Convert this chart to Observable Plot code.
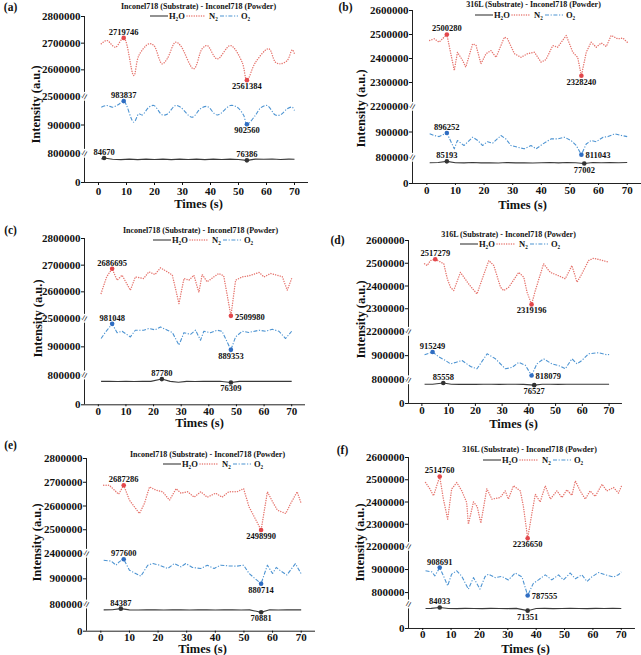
<!DOCTYPE html>
<html><head><meta charset="utf-8">
<script src="https://cdn.jsdelivr.net/npm/d3@7"></script>
<script src="https://cdn.jsdelivr.net/npm/@observablehq/plot@0.6"></script>
<style>
body{margin:0;background:#fff;}
#fig{position:relative;width:641px;height:655px;overflow:hidden;}
#fig svg{position:absolute;overflow:visible;}
</style></head><body><div id="fig"></div>
<script>
// ---------- data (time s, intensity a.u.) ----------
const xTicks = [0, 10, 20, 30, 40, 50, 60, 70];
const titleInc = "Inconel718 (Substrate) - Inconel718 (Powder)";
const title316 = "316L (Substrate) - Inconel718 (Powder)";
const seriesNames = ["H2O", "N2", "O2"];
const seriesLabels = ["H₂O", "N₂", "O₂"];

const a_N2 = [[1,2697500],[3,2710000],[6,2685000],[9,2719746],[12.6,2578750],[14.4,2653750],[18,2697500],[19.8,2691000],[22.7,2622500],[24.5,2641000],[27.5,2703750],[29.3,2691000],[34,2603750],[37,2679000],[38.8,2691000],[42.4,2641000],[47.1,2691000],[51.3,2628750],[53,2561384],[56.1,2628750],[60.8,2679000],[63.2,2628750],[65,2622500],[67.4,2635000],[69.2,2675000],[70,2660000]];
const a_O2 = [[1,962500],[3,968400],[5,962500],[7,970900],[9,983837],[12.6,909800],[14.4,939300],[15.6,935000],[18,962500],[19.8,968400],[22.7,935800],[24.5,938000],[27.5,968400],[29.3,962500],[33.4,927400],[36.4,956800],[38.8,965000],[42.4,935000],[47.1,968400],[49.5,962500],[51.8,935000],[53,902560],[56.1,935000],[57.9,960000],[60.2,968400],[63.2,935000],[65,935800],[67.4,956800],[69.2,962500],[70,951000]];
const a_H2O = [[1,81000],[2,84670],[5,80000],[8,79000],[11,80500],[14,79000],[17,80500],[20,79500],[23,80500],[26,79000],[29,80500],[32,79500],[35,80500],[38,79000],[41,80500],[44,79500],[47,80500],[50,79500],[53,76386],[56,80500],[59,80000],[62,81000],[65,79500],[68,80500],[70,80000]];
const a_peaks = [["N2",9,2719746],["N2",53,2561384],["O2",9,983837],["O2",53,902560],["H2O",2,84670],["H2O",53,76386]];

const b_N2 = [[1,2475000],[2.6,2482000],[4.3,2468000],[7,2500280],[9.6,2350000],[10.7,2426000],[12.5,2392000],[13.6,2364000],[16,2461000],[17.2,2455000],[18.9,2378000],[20.7,2420000],[22.4,2433000],[24.2,2405000],[27.1,2489000],[28.2,2482000],[30.6,2420000],[32.9,2405000],[35.2,2420000],[37.6,2426000],[39.9,2385000],[41.6,2395000],[44,2454000],[45.7,2447000],[48.7,2496000],[51,2426000],[52.7,2405000],[54,2328240],[55.7,2426000],[57.4,2468000],[59.2,2447000],[60.9,2465000],[62.7,2450000],[64.4,2496000],[66.7,2482000],[68.5,2485000],[70,2468000]];
const b_O2 = [[1,893000],[2.6,886300],[4.3,882000],[7,896252],[9.6,834000],[10.7,866700],[13,847000],[16,879600],[17.8,866700],[19.5,847000],[21.2,862000],[23,856000],[25.9,886300],[27.6,873000],[29.4,847000],[31.7,840400],[34,834000],[36.4,847000],[38.2,834000],[40.5,853000],[43.4,873000],[45.7,873000],[48.1,879600],[50.4,866700],[52.2,847000],[54,811043],[55.7,853000],[57.4,866700],[59.2,862000],[61.6,879600],[63.3,882000],[65.7,893000],[68,886300],[70,882000]];
const b_H2O = [[1,80000],[4,80500],[7,85193],[10,80000],[13,79500],[16,80500],[19,79500],[22,80000],[25,79000],[28,80500],[31,79500],[34,80000],[37,79000],[40,80000],[43,80500],[46,79500],[49,81000],[52,80000],[55,77002],[58,80500],[61,80000],[64,80500],[67,80000],[70,80500]];
const b_peaks = [["N2",7,2500280],["N2",54,2328240],["O2",7,896252],["O2",54,811043],["H2O",7,85193],["H2O",55,77002]];

const c_N2 = [[1,2594000],[3,2656000],[5,2686695],[6.8,2643750],[8.6,2662500],[11.6,2606000],[13.4,2656000],[16.4,2650000],[18.3,2675000],[20.5,2665000],[22.5,2690000],[25,2675000],[26.8,2662500],[29.2,2556000],[31,2650000],[32.8,2643750],[34.6,2662500],[36.4,2598000],[37.6,2665000],[39.4,2637500],[41.8,2656000],[43.6,2668750],[45.4,2660000],[48,2509980],[49.7,2643750],[52.1,2656000],[54.5,2660000],[58.2,2672500],[60,2656000],[62.4,2668750],[64.8,2662000],[66.6,2657000],[68.4,2606000],[70,2650000]];
const c_O2 = [[1,929400],[2.5,950600],[5,981048],[6.8,950000],[8.6,955000],[11.6,935000],[13.4,958700],[16.4,958700],[18.3,964700],[20.5,960000],[22.5,970400],[25,958700],[26.8,950600],[29.2,905800],[31,950000],[33.4,944000],[35.2,958700],[37,923400],[38.2,955000],[40.6,950000],[43,958700],[44.8,955000],[48,889353],[49.7,935000],[52.1,955000],[54.5,950600],[58.2,958700],[60.6,955000],[63,962000],[65.4,955000],[67.8,929400],[70,955000]];
const c_H2O = [[1,80000],[4,80500],[7,79500],[10,80500],[13,79500],[16,80500],[19,80000],[23,87780],[26,80000],[29,77000],[32,80000],[35,79500],[38,80500],[41,80000],[44,80500],[48,76309],[51,80000],[54,80500],[57,80000],[60,80500],[63,80000],[66,80500],[70,80000]];
const c_peaks = [["N2",5,2686695],["N2",48,2509980],["O2",5,981048],["O2",48,889353],["H2O",23,87780],["H2O",48,76309]];

const d_N2 = [[1,2497600],[2,2490000],[3.2,2512000],[5,2517279],[8.2,2497600],[9.5,2431700],[10.7,2394800],[11.9,2380000],[14.4,2460000],[17.5,2409000],[20.6,2365000],[25,2512000],[26.9,2490000],[29.4,2394800],[30.6,2380000],[32.5,2394800],[36.2,2460000],[38.1,2438700],[39.3,2373000],[41,2319196],[42.4,2380000],[45.5,2497600],[48,2460000],[51.1,2445000],[53.6,2431700],[56.1,2490000],[58,2416900],[59.8,2453000],[62.3,2512000],[64.2,2522000],[66.7,2515000],[69.2,2507000],[70,2505000]];
const d_O2 = [[1,903500],[4,915249],[6.3,895000],[8.8,880000],[10.7,866000],[12.6,872000],[15,880000],[18.2,855000],[20.6,845500],[24.4,907700],[27.5,887000],[31.2,845500],[33.7,851000],[36.2,872000],[38.7,860000],[41,818079],[43,866000],[45.5,887000],[48.6,866000],[51.7,857000],[53.6,845500],[56.1,887000],[58,866000],[59.8,880000],[62.3,907700],[66,912000],[69.2,903500],[70,905000]];
const d_H2O = [[1,80000],[4,80500],[8,85558],[11,80000],[14,79500],[17,80500],[20,79500],[23,80000],[26,80500],[29,79500],[32,80000],[35,80500],[38,79500],[42,76527],[45,80000],[48,80500],[51,79500],[54,80000],[57,80500],[60,80000],[63,80500],[66,80000],[70,80500]];
const d_peaks = [["N2",5,2517279],["N2",41,2319196],["O2",4,915249],["O2",41,818079],["H2O",8,85558],["H2O",42,76527]];

const e_N2 = [[1,2687600],[3,2687000],[4.8,2666600],[6.2,2649700],[8,2687286],[10,2624500],[13.5,2568400],[15.2,2610000],[17,2680500],[19.3,2666600],[21.6,2660000],[24,2624500],[26.3,2673000],[28,2654000],[30.4,2660000],[32.6,2637000],[34.9,2660000],[37.2,2637000],[40.1,2654000],[42.4,2637000],[44.7,2660000],[47.6,2660000],[49.9,2673000],[51.8,2596000],[56,2498990],[58.2,2660000],[60,2618000],[61.7,2582300],[64.6,2568400],[66.3,2610000],[68.6,2660000],[70,2610400]];
const e_O2 = [[1,973600],[3.6,970000],[5.3,953900],[6.5,968000],[8,977600],[10,934000],[14,910500],[16.4,953900],[18.2,960500],[20.5,953900],[23.4,940800],[25.7,960500],[28,947300],[29.7,960500],[32,945000],[34.9,940800],[37.2,953900],[39.6,940800],[41.9,953900],[44.7,951000],[47.6,950000],[49.9,953900],[51.8,921000],[56,880714],[58.2,953900],[60,921000],[61.3,945000],[63,930000],[65,915000],[68,960000],[70,920000]];
const e_H2O = [[1,80000],[4,80500],[7,84387],[10,80000],[13,79500],[16,80500],[19,80000],[22,79500],[25,80500],[28,80000],[31,79500],[34,80500],[37,80000],[40,79500],[43,80500],[46,80000],[49,79500],[52,80000],[56,70881],[59,80500],[62,79500],[65,80000],[68,80500],[70,80000]];
const e_peaks = [["N2",8,2687286],["N2",56,2498990],["O2",8,977600],["O2",56,880714],["H2O",7,84387],["H2O",56,70881]];

const f_N2 = [[1,2487600],[2.6,2458000],[3.8,2428000],[6,2514760],[7.3,2413000],[8.8,2323000],[10.2,2458000],[12,2487600],[13.8,2450000],[15.5,2398000],[16.1,2300000],[17.9,2400000],[19.2,2380000],[20.5,2305000],[22.6,2460000],[24.4,2413000],[27.3,2420000],[29.1,2450000],[30.2,2413000],[32,2473000],[34.4,2450000],[35.5,2380000],[37,2236650],[38.5,2350000],[39.7,2435000],[41.4,2400000],[43.2,2473000],[45,2413000],[47.3,2450000],[49.1,2420000],[50.8,2455000],[52.6,2430000],[53.8,2495000],[55.5,2450000],[57.3,2413000],[59,2450000],[60.8,2425000],[63.2,2480000],[64.9,2450000],[67.3,2465000],[69,2440000],[70,2470000]];
const f_O2 = [[1,894500],[3.2,890000],[4.3,872800],[6,908691],[7.3,872800],[8.8,829400],[10.2,880000],[12,894500],[13.8,870000],[16.1,815000],[17.9,865000],[20.2,815000],[22,870000],[23.2,880000],[25.5,865000],[27.9,870000],[30.2,855000],[32.6,885000],[35,868000],[37,787555],[39,840000],[40.8,855000],[43.2,877000],[45.5,855000],[47.9,877000],[49.6,855000],[52,885000],[53.8,860000],[56.1,877000],[57.9,848000],[59.6,868000],[62,887200],[64.3,877000],[67.3,868000],[69,877000],[70,890000]];
const f_H2O = [[1,80000],[3,80500],[6,84033],[9,80000],[12,79500],[15,80500],[18,80000],[21,79500],[24,80500],[27,80000],[30,79500],[33,80500],[37,71351],[40,80000],[43,80500],[46,79500],[49,80000],[52,80500],[55,80000],[58,79500],[61,80500],[64,80000],[67,80500],[70,80000]];
const f_peaks = [["N2",6,2514760],["N2",37,2236650],["O2",6,908691],["O2",37,787555],["H2O",6,84033],["H2O",37,71351]];

// ---------- layout / styles ----------
const FONT = "'Liberation Serif', 'Times New Roman', serif";
const lineColor = {H2O: "#3a3a3a", N2: "#e6766f", O2: "#4d94d2"};
const dotColor = {H2O: "#333333", N2: "#e2474b", O2: "#2f6dc2"};
const dash = {H2O: null, N2: "0.1,2.3", O2: "4,1.6,1.2,1.6"};
const cap = {H2O: "butt", N2: "round", O2: "butt"};
const segSeries = ["H2O", "O2", "N2"]; // bottom, middle, top axis segments

const panels = [
  {key:"(a)", title:titleInc, N2:a_N2, O2:a_O2, H2O:a_H2O, peaks:a_peaks, curve:"catmull-rom",
   left:0, top:0, w:320, h:215, ml:84, mr:12, xts:3, xtp:2,
   yDomain:[0,100000,800000,1000000,2500000,2800000], yRange:[182,153,153,96,96,16],
   yTicks:[0,800000,900000,2500000,2600000,2700000,2800000],
   place:["above","below","above","below","above","above"],
   lab:[10,7], tit:[198,6], leg:[150,16], yLab:[35,104], xLab:[198,203]},
  {key:"(b)", title:title316, N2:b_N2, O2:b_O2, H2O:b_H2O, peaks:b_peaks, curve:"linear",
   left:320, top:0, w:321, h:215, ml:92, mr:0, xts:2, xtp:1,
   yDomain:[0,100000,800000,1000000,2200000,2600000], yRange:[183,157,157,106,106,10],
   yTicks:[0,800000,900000,2200000,2300000,2400000,2500000,2600000],
   place:["above","below","above","right","above","below"],
   lab:[25,7], tit:[213,4], leg:[155,15], yLab:[40,108], xLab:[202,204.5]},
  {key:"(c)", title:titleInc, N2:c_N2, O2:c_O2, H2O:c_H2O, peaks:c_peaks, curve:"linear",
   left:0, top:215, w:320, h:215, ml:84, mr:15, xts:2, xtp:0,
   yDomain:[0,100000,800000,1000000,2500000,2800000], yRange:[189.3,160,160,103.3,103.3,23.3],
   yTicks:[0,800000,900000,2500000,2600000,2700000,2800000],
   place:["above","right","above","below","above","below"],
   lab:[10,15], tit:[200,15], leg:[153,25], yLab:[37,103], xLab:[199,207.5]},
  {key:"(d)", title:title316, N2:d_N2, O2:d_O2, H2O:d_H2O, peaks:d_peaks, curve:"linear",
   left:320, top:215, w:320, h:215, ml:88, mr:18, xts:3, xtp:0,
   yDomain:[0,100000,800000,1000000,2200000,2600000], yRange:[188.3,164.3,164.3,116,116,25],
   yTicks:[0,800000,900000,2200000,2300000,2400000,2500000,2600000],
   place:["above","below","above","right","above","below"],
   lab:[17,25], tit:[188,19], leg:[140,29], yLab:[40,104], xLab:[193,208]},
  {key:"(e)", title:titleInc, N2:e_N2, O2:e_O2, H2O:e_H2O, peaks:e_peaks, curve:"linear",
   left:0, top:430, w:320, h:225, ml:86, mr:5, xts:2, xtp:0,
   yDomain:[0,100000,800000,1000000,2400000,2800000], yRange:[200.7,174,174,123.3,123.3,28.3],
   yTicks:[0,800000,900000,2400000,2500000,2600000,2700000,2800000],
   place:["above","below","above","below","above","below"],
   lab:[10,15], tit:[207,24], leg:[163,34], yLab:[36,112], xLab:[202,218.5]},
  {key:"(f)", title:title316, N2:f_N2, O2:f_O2, H2O:f_H2O, peaks:f_peaks, curve:"linear",
   left:320, top:430, w:320, h:225, ml:88, mr:5, xts:2, xtp:0,
   yDomain:[0,100000,750000,1000000,2200000,2600000], yRange:[198.3,173.3,173.3,115.7,115.7,26.7],
   yTicks:[0,800000,900000,2200000,2300000,2400000,2500000,2600000],
   place:["above","below","above","right","above","below"],
   lab:[22,20], tit:[209,19], leg:[163,30], yLab:[39,112], xLab:[205,218]}
];

const fig = document.getElementById("fig");
const baseStyle = {fontFamily: FONT, fontWeight: "bold", fontSize: "11px", color: "#111", background: "transparent", overflow: "visible"};

function place(el, x, y) { el.style.left = x + "px"; el.style.top = y + "px"; fig.appendChild(el); }

function fixedText(pos, text, opts) {
  return Plot.text([text], Object.assign({frameAnchor: "top-left", dx: pos[0], dy: pos[1], text: d => d,
    textAnchor: "middle", lineAnchor: "middle", fill: "#111"}, opts));
}

function noteMarks(p, s) {
  const marks = [];
  p.peaks.forEach((pk, i) => {
    if (pk[0] !== s) return;
    const d = [{s: pk[0], t: pk[1], v: pk[2]}];
    const pl = p.place[i];
    const o = {x: "t", y: "v", text: r => String(r.v), fontSize: 8.5, fontWeight: "bold", fill: "#111"};
    if (pl === "above") Object.assign(o, {lineAnchor: "bottom", dy: -3});
    else if (pl === "below") Object.assign(o, {lineAnchor: "top", dy: 3});
    else Object.assign(o, {textAnchor: "start", dx: 4, dy: 1});
    marks.push(Plot.text(d, o));
  });
  return marks;
}

panels.forEach(p => {
  // fixed texts (panel tag, title, axis titles)
  const txt = Plot.plot({
    width: p.w, height: p.h, margin: 0, style: baseStyle,
    marks: [
      fixedText(p.lab, p.key, {fontSize: 11.5}),
      fixedText(p.tit, p.title, {fontSize: 8}),
      fixedText(p.yLab, "Intensity (a.u.)", {fontSize: 12.5, rotate: -90}),
      fixedText(p.xLab, "Times (s)", {fontSize: 12.5})
    ]
  });
  place(txt, p.left, p.top);

  // three stacked axis segments (broken y axis)
  segSeries.forEach((s, k) => {
    const lo = p.yDomain[2 * k], hi = p.yDomain[2 * k + 1];
    const yB = p.yRange[2 * k], yT = p.yRange[2 * k + 1];
    const isBottom = k === 0;
    const mb = isBottom ? p.h - yB : 0;
    const ticks = p.yTicks.filter(t => t >= lo && t <= hi);
    const pk = p.peaks.filter(d => d[0] === s).map(d => ({s: d[0], t: d[1], v: d[2]}));
    const marks = [
      Plot.ruleX([-5], {y1: lo, y2: hi, stroke: "#222", strokeWidth: 1}),
      Plot.axisY({ticks, tickSize: 3, tickPadding: 1, label: null, tickFormat: d3.format("d")}),
      Plot.line(p[s], {x: d => d[0], y: d => d[1], stroke: lineColor[s], strokeWidth: s === "N2" ? 1.4 : 1.1,
        strokeDasharray: dash[s], strokeLinecap: cap[s], curve: s === "H2O" ? "linear" : p.curve}),
      Plot.dot(pk, {x: "t", y: "v", r: 2.3, fill: d => dotColor[d.s], stroke: "none"}),
      ...noteMarks(p, s)
    ];
    if (isBottom) {
      marks.unshift(Plot.ruleY([lo], {stroke: "#222", strokeWidth: 1}));
      marks.push(Plot.axisX({ticks: xTicks, tickSize: p.xts, tickPadding: p.xtp, label: null, tickFormat: d3.format("d")}));
    } else {
      marks.push(Plot.text(["="], {frameAnchor: "bottom-left", text: d => d, rotate: -60, fontSize: 12, fontWeight: "normal",
        textAnchor: "middle", lineAnchor: "middle", fill: "#111", stroke: "white", strokeWidth: 2.5, paintOrder: "stroke"}));
    }
    const chart = Plot.plot({
      width: p.w, height: (yB - yT) + mb,
      marginLeft: p.ml, marginRight: p.mr, marginTop: 0, marginBottom: mb,
      x: {domain: [-5, 75], axis: null},
      y: {domain: [lo, hi], axis: null},
      style: baseStyle,
      marks
    });
    place(chart, p.left, p.top + yT);
  });

  // legend (line samples + labels)
  const lg = d3.create("svg").attr("width", 110).attr("height", 12);
  const g = lg.append("g").attr("font-family", FONT).attr("font-weight", "bold").attr("font-size", 8.5).attr("fill", "#111");
  const spec = [[0, 19], [37, 59], [70, 91]];
  seriesNames.forEach((s, i) => {
    g.append("line").attr("x1", spec[i][0]).attr("x2", spec[i][0] + 18).attr("y1", 6).attr("y2", 6)
      .attr("stroke", lineColor[s]).attr("stroke-width", s === "N2" ? 1.4 : 1.1)
      .attr("stroke-dasharray", dash[s]).attr("stroke-linecap", cap[s]);
    g.append("text").attr("x", spec[i][1]).attr("y", 9).text(seriesLabels[i]);
  });
  place(lg.node(), p.left + p.leg[0], p.top + p.leg[1] - 6);
});
</script></body></html>
